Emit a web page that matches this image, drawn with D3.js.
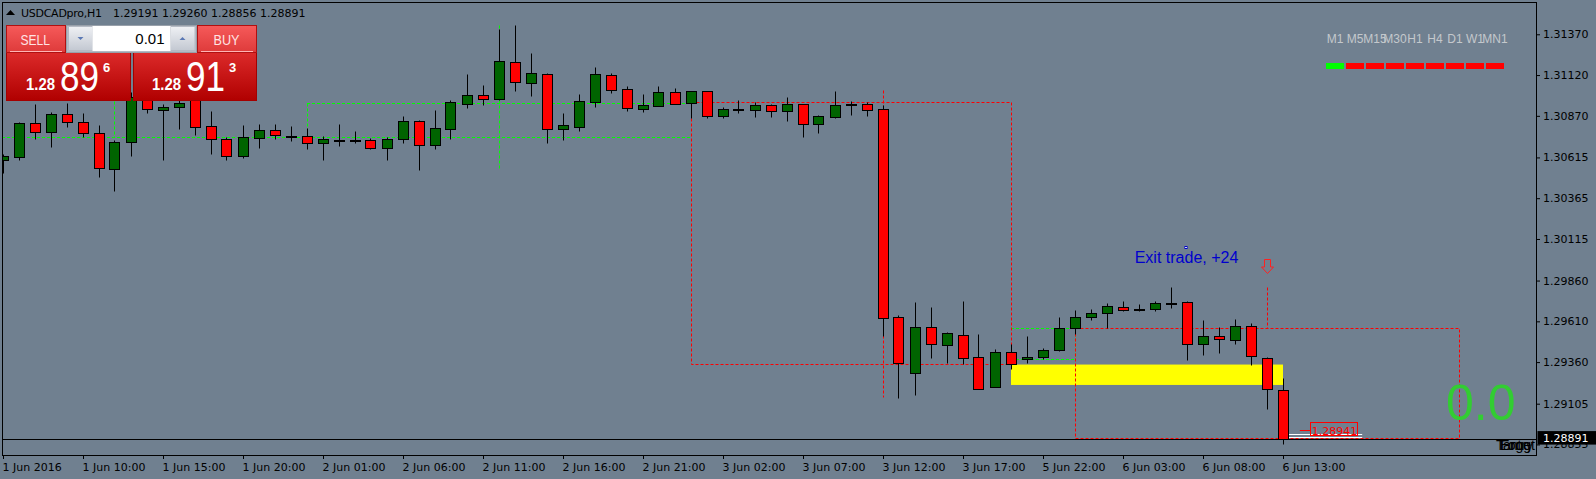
<!DOCTYPE html>
<html><head><meta charset="utf-8">
<script src="https://cdn.jsdelivr.net/npm/d3@7/dist/d3.min.js"></script>
<style>
html,body{margin:0;padding:0;background:#708090;overflow:hidden;}
svg{display:block;}
</style></head>
<body>
<svg id="c" width="1596" height="479"></svg>
<script>
// ---------------- DATA ----------------
const symbolTitle = "USDCADpro,H1";
const titlePrices = "1.29191 1.29260 1.28856 1.28891";

const opens = [1.30599,1.30616,1.30824,1.30769,1.30879,1.30830,1.30763,1.30542,1.30708,1.30979,
1.30904,1.30922,1.30979,1.30806,1.30726,1.30622,1.30732,1.30781,1.30749,1.30745,
1.30702,1.30722,1.30721,1.30720,1.30671,1.30726,1.30837,1.30689,1.30791,1.30944,
1.30996,1.30975,1.31198,1.31073,1.31125,1.30791,1.30803,1.30957,1.31119,1.31033,
1.30914,1.30932,1.31014,1.30951,1.31020,1.30871,1.30910,1.30908,1.30935,1.30902,
1.30941,1.30822,1.30865,1.30940,1.30941,1.30910,1.29636,1.29295,1.29575,1.29467,
1.29526,1.29391,1.29209,1.29420,1.29377,1.29389,1.29432,1.29567,1.29635,1.29659,
1.29696,1.29683,1.29684,1.29723,1.29727,1.29469,1.29518,1.29494,1.29579,1.29383,
1.29191];
const highs = [1.30636,1.30830,1.30943,1.30895,1.30949,1.30887,1.30814,1.30722,1.31014,1.30998,
1.30943,1.30967,1.31010,1.30900,1.30742,1.30814,1.30820,1.30820,1.30808,1.30794,
1.30745,1.30820,1.30777,1.30736,1.30738,1.30869,1.30845,1.30904,1.30967,1.31125,
1.31059,1.31403,1.31427,1.31255,1.31131,1.30887,1.31004,1.31170,1.31131,1.31053,
1.31004,1.31053,1.31041,1.31020,1.31020,1.30924,1.30967,1.30953,1.30941,1.30986,
1.30944,1.30877,1.31022,1.30961,1.30953,1.30936,1.29649,1.29728,1.29698,1.29545,
1.29735,1.29532,1.29440,1.29469,1.29518,1.29445,1.29635,1.29677,1.29684,1.29721,
1.29733,1.29714,1.29733,1.29819,1.29733,1.29616,1.29573,1.29622,1.29598,1.29389,
1.29260];
const lows = [1.30520,1.30599,1.30730,1.30681,1.30803,1.30742,1.30493,1.30411,1.30621,1.30889,
1.30599,1.30791,1.30752,1.30636,1.30599,1.30613,1.30675,1.30726,1.30718,1.30669,
1.30601,1.30687,1.30702,1.30668,1.30601,1.30705,1.30540,1.30669,1.30728,1.30920,
1.30938,1.30967,1.31022,1.30992,1.30705,1.30724,1.30779,1.30926,1.31012,1.30902,
1.30895,1.30932,1.30944,1.30859,1.30859,1.30859,1.30889,1.30865,1.30865,1.30840,
1.30742,1.30767,1.30859,1.30877,1.30871,1.29520,1.29142,1.29160,1.29387,1.29356,
1.29350,1.29194,1.29206,1.29316,1.29356,1.29377,1.29426,1.29530,1.29616,1.29567,
1.29671,1.29671,1.29671,1.29694,1.29371,1.29402,1.29414,1.29469,1.29340,1.29071,
1.28856];
const closes = [1.30624,1.30824,1.30769,1.30879,1.30830,1.30763,1.30548,1.30708,1.30986,1.30910,
1.30922,1.30951,1.30803,1.30726,1.30622,1.30738,1.30781,1.30751,1.30747,1.30702,
1.30726,1.30721,1.30722,1.30671,1.30726,1.30837,1.30689,1.30794,1.30953,1.30996,
1.30975,1.31204,1.31079,1.31131,1.30791,1.30812,1.30959,1.31125,1.31030,1.30920,
1.30935,1.31014,1.30944,1.31020,1.30871,1.30910,1.30911,1.30935,1.30902,1.30941,
1.30822,1.30867,1.30935,1.30938,1.30908,1.29632,1.29356,1.29575,1.29473,1.29538,
1.29387,1.29197,1.29422,1.29346,1.29389,1.29432,1.29567,1.29635,1.29659,1.29702,
1.29678,1.29682,1.29721,1.29722,1.29469,1.29518,1.29500,1.29579,1.29395,1.29193,
1.28891];

const timeTickIndex = [0,5,10,15,20,25,30,35,40,45,50,55,60,65,70,75,80];
const timeTickLabels = ["1 Jun 2016","1 Jun 10:00","1 Jun 15:00","1 Jun 20:00","2 Jun 01:00",
"2 Jun 06:00","2 Jun 11:00","2 Jun 16:00","2 Jun 21:00","3 Jun 02:00","3 Jun 07:00",
"3 Jun 12:00","3 Jun 17:00","5 Jun 22:00","6 Jun 03:00","6 Jun 08:00","6 Jun 13:00"];
const priceTicks = [1.31370,1.31120,1.30870,1.30615,1.30365,1.30115,1.29860,1.29610,1.29360,1.29105,1.28855];
const bidPrice = 1.28891;

// drawn objects (bar index / price)
const greenHLines = [[-1,43,1.30742],[19,43,1.30947],[63,67,1.29567],[63,67,1.29379]];
const greenVLines = [[7,1.30990,1.30742],[19,1.30947,1.30742],[31,1.31427,1.30550],[67,1.29567,1.29379]];
const redRects = [[43,63,1.30953,1.29346],[67,91,1.29567,1.28893]];
const redVLines = [[55,1.31028,1.29146],[79,1.29822,1.29567]];
const yellowRect = [63,80,1.29345,1.29220];
const exitText = {bar:74, price:1.30066, text:"Exit trade, +24"};
const arrowMark = {bar:79, top:1.29992, tip:1.29908};
const tradeLabel = {price:1.28941, text:"1.28941"};
const whiteLevels = [1.28917,1.28898];
const profitText = "0.0";
const tfLabels = ["M1","M5","M15","M30","H1","H4","D1","W1","MN1"];
const tfState = [1,0,0,0,0,0,0,0,0];
const cornerTexts = ["Target","Entry","Long"];

// ---------------- SCALES ----------------
const W=1596,H=479, L=2, T=2, R=1536, B=455;
const x = d3.scaleLinear().domain([0,80]).range([3,1283]);
const y = d3.scaleLinear().domain([1.287904,1.315619]).range([455,3]);
const X = i => Math.floor(x(i))+0.5;
const Y = p => Math.round(y(p))+0.5;

const svg = d3.select("#c");
svg.append("rect").attr("width",W).attr("height",H).attr("fill","#708090");
const defs = svg.append("defs");
defs.append("clipPath").attr("id","plot").append("rect").attr("x",L+1).attr("y",T+1).attr("width",R-L-1).attr("height",B-T-1);

const plot = svg.append("g").attr("clip-path","url(#plot)");

// yellow rectangle
plot.append("rect").attr("x",x(yellowRect[0])).attr("width",x(yellowRect[1])-x(yellowRect[0]))
  .attr("y",y(yellowRect[2])).attr("height",y(yellowRect[3])-y(yellowRect[2])).attr("fill","#ffff00");

const dash="3,2";
// green dashed
greenHLines.forEach(d=>plot.append("line").attr("x1",x(d[0])).attr("x2",x(d[1])).attr("y1",Y(d[2])).attr("y2",Y(d[2]))
  .attr("stroke","#00ff00").attr("stroke-dasharray",dash));
greenVLines.forEach(d=>plot.append("line").attr("x1",X(d[0])).attr("x2",X(d[0])).attr("y1",Y(d[1])).attr("y2",Y(d[2]))
  .attr("stroke","#00ff00").attr("stroke-dasharray",dash));
// red dashed
redRects.forEach(d=>plot.append("rect").attr("x",X(d[0])).attr("y",Y(d[2])).attr("width",X(d[1])-X(d[0])).attr("height",Y(d[3])-Y(d[2]))
  .attr("fill","none").attr("stroke","#ff0000").attr("stroke-dasharray",dash));
redVLines.forEach(d=>plot.append("line").attr("x1",X(d[0])).attr("x2",X(d[0])).attr("y1",Y(d[1])).attr("y2",Y(d[2]))
  .attr("stroke","#ff0000").attr("stroke-dasharray",dash));

// bid line
plot.append("line").attr("x1",L).attr("x2",R).attr("y1",Y(bidPrice)).attr("y2",Y(bidPrice)).attr("stroke","#000");

// candles
const idx = d3.range(opens.length);
const cg = plot.append("g");
idx.forEach(i=>{
  const cx = X(i);
  cg.append("line").attr("x1",cx).attr("x2",cx).attr("y1",Y(highs[i])).attr("y2",Y(lows[i])).attr("stroke","#000");
  const top = Y(Math.max(opens[i],closes[i])), bot = Y(Math.min(opens[i],closes[i]));
  cg.append("rect").attr("x",cx-5).attr("width",10).attr("y",top).attr("height",Math.max(bot-top,1))
    .attr("fill", closes[i]>=opens[i] ? "#006400" : "#ff0000").attr("stroke","#000");
});

// trade level marks
whiteLevels.forEach(p=>plot.append("line").attr("x1",x(80)+6).attr("x2",x(84.95)).attr("y1",Y(p)).attr("y2",Y(p)).attr("stroke","#ffffff"));
plot.append("line").attr("x1",x(81.05)).attr("x2",x(81.7)).attr("y1",Y(tradeLabel.price)).attr("y2",Y(tradeLabel.price)).attr("stroke","#ff0000");
plot.append("rect").attr("x",Math.round(x(81.7))+0.5).attr("y",Y(tradeLabel.price)-8).attr("width",47).attr("height",13)
  .attr("fill","none").attr("stroke","#ff0000");
plot.append("text").attr("x",x(81.7)+1.5).attr("y",Y(tradeLabel.price)+4).attr("font-family","DejaVu Sans").attr("font-size",11)
  .attr("fill","#ff0000").text(tradeLabel.text);

// arrow
{
  const cx = X(arrowMark.bar), t=Math.round(y(arrowMark.top))+0.5, tip=Math.round(y(arrowMark.tip))+0.5, mid=Math.round(t+(tip-t)*0.55);
  plot.append("path").attr("d",`M${cx-3},${t} L${cx+3},${t} L${cx+3},${mid} L${cx+6},${mid} L${cx},${tip} L${cx-6},${mid} L${cx-3},${mid} Z`)
    .attr("fill","none").attr("stroke","#ff2020").attr("stroke-width",1);
}
// exit text
plot.append("rect").attr("x",X(exitText.bar)-2.5).attr("y",Y(exitText.price)-1).attr("width",2).attr("height",2)
  .attr("fill","#d0d8ff").attr("stroke","#0000cd");
plot.append("text").attr("x",x(exitText.bar)-0.5).attr("y",y(exitText.price)+16).attr("text-anchor","middle")
  .attr("font-family","Liberation Sans, Arial").attr("font-size",16).attr("fill","#0000cd").text(exitText.text);

// profit text
svg.append("text").attr("x",1446).attr("y",419.5).attr("font-family","Liberation Sans, Arial").attr("font-size",50)
  .attr("fill","#32cd32").text(profitText);

// corner overlapping labels
cornerTexts.forEach((t,k)=>svg.append("text").attr("x",1535-k*2).attr("y",450).attr("text-anchor","end")
  .attr("font-family","Liberation Sans, Arial").attr("font-size",14).attr("fill","#000").text(t));

// frame
svg.append("rect").attr("x",L+0.5).attr("y",T+0.5).attr("width",R-L).attr("height",B-T).attr("fill","none").attr("stroke","#000");

// axes
const xa = svg.append("g").attr("transform",`translate(0,${B})`)
  .call(d3.axisBottom(x).tickValues(timeTickIndex).tickFormat((d,i)=>timeTickLabels[i]).tickSize(4).tickPadding(4));
xa.select(".domain").remove();
xa.selectAll("line").attr("stroke","#000");
xa.selectAll("text").attr("text-anchor","start").attr("x",-1).attr("font-family","DejaVu Sans").attr("font-size",11).attr("fill","#000");

const ya = svg.append("g").attr("transform",`translate(${R},0)`)
  .call(d3.axisRight(y).tickValues(priceTicks).tickFormat(d3.format(".5f")).tickSize(4).tickPadding(3));
ya.select(".domain").remove();
ya.selectAll("line").attr("stroke","#000");
ya.selectAll("text").attr("font-family","DejaVu Sans").attr("font-size",11).attr("fill","#000");

// bid price label
svg.append("rect").attr("x",1537.5).attr("y",y(bidPrice)-7.5).attr("width",59).attr("height",13.5).attr("fill","#000");
svg.append("text").attr("x",1543).attr("y",y(bidPrice)+3.5).attr("font-family","DejaVu Sans").attr("font-size",11)
  .attr("fill","#fff").text(d3.format(".5f")(bidPrice));

// title
svg.append("path").attr("d","M6,15 L15,15 L10.5,10 Z").attr("fill","#000");
svg.append("text").attr("x",21).attr("y",16.5).attr("font-family","DejaVu Sans").attr("font-size",11).attr("textLength",81).attr("fill","#000").text(symbolTitle);
svg.append("text").attr("x",113).attr("y",16.5).attr("font-family","DejaVu Sans").attr("font-size",11).attr("fill","#000").text(titlePrices);

// timeframe widget
tfLabels.forEach((t,k)=>{
  const cx = 1335+20*k;
  svg.append("text").attr("x",cx).attr("y",42.5).attr("text-anchor","middle").attr("font-family","Liberation Sans, Arial")
    .attr("font-size",12).attr("fill","#c4c8cc").text(t);
  svg.append("rect").attr("x",cx-9).attr("y",63).attr("width",18).attr("height",6).attr("fill",tfState[k]?"#00ff00":"#ff0000");
});

// ---------- one-click trading panel ----------
const g1 = defs.append("linearGradient").attr("id","btn").attr("x1",0).attr("y1",0).attr("x2",0).attr("y2",1);
g1.append("stop").attr("offset","0").attr("stop-color","#f65a5a");
g1.append("stop").attr("offset","1").attr("stop-color","#de3a3a");
const g2 = defs.append("linearGradient").attr("id","blk").attr("x1",0).attr("y1",0).attr("x2",0).attr("y2",1);
g2.append("stop").attr("offset","0").attr("stop-color","#dc2a2a");
g2.append("stop").attr("offset","1").attr("stop-color","#b00000");
const g3 = defs.append("linearGradient").attr("id","gb").attr("x1",0).attr("y1",0).attr("x2",0).attr("y2",1);
g3.append("stop").attr("offset","0").attr("stop-color","#eef0f4");
g3.append("stop").attr("offset","1").attr("stop-color","#c4c9d2");

const P = svg.append("g");
P.append("rect").attr("x",6.5).attr("y",52.5).attr("width",124).attr("height",48).attr("fill","url(#blk)").attr("stroke","#a40000");
P.append("rect").attr("x",133.5).attr("y",52.5).attr("width",123).attr("height",48).attr("fill","url(#blk)").attr("stroke","#a40000");
P.append("rect").attr("x",6.5).attr("y",25.5).attr("width",59).attr("height",27).attr("fill","url(#btn)").attr("stroke","#b01010");
P.append("rect").attr("x",197.5).attr("y",25.5).attr("width",59).attr("height",27).attr("fill","url(#btn)").attr("stroke","#b01010");
P.append("line").attr("x1",10).attr("x2",62).attr("y1",51.5).attr("y2",51.5).attr("stroke","#ffb4b4");
P.append("line").attr("x1",201).attr("x2",253).attr("y1",51.5).attr("y2",51.5).attr("stroke","#ffb4b4");
const btnFont = "Liberation Sans, Arial";
P.append("text").attr("x",20.5).attr("y",44.5).attr("font-family",btnFont).attr("font-size",15).attr("textLength",29.5).attr("lengthAdjust","spacingAndGlyphs").attr("fill","#ffe4e4").text("SELL");
P.append("text").attr("x",213.5).attr("y",44.5).attr("font-family",btnFont).attr("font-size",15).attr("textLength",26).attr("lengthAdjust","spacingAndGlyphs").attr("fill","#ffe4e4").text("BUY");
P.append("rect").attr("x",66.5).attr("y",25.5).attr("width",130).attr("height",27).attr("fill","#b4bac4").attr("stroke","#98a0aa");
P.append("rect").attr("x",69).attr("y",27).attr("width",23.5).attr("height",23).attr("fill","url(#gb)");
P.append("rect").attr("x",92.5).attr("y",26).attr("width",78).attr("height",25).attr("fill","#ffffff");
P.append("rect").attr("x",171).attr("y",27).attr("width",23.5).attr("height",23).attr("fill","url(#gb)");
P.append("path").attr("d","M77.5,37 L83.5,37 L80.5,40 Z").attr("fill","#5a78b4");
P.append("path").attr("d","M179.5,40 L185.5,40 L182.5,37 Z").attr("fill","#5a78b4");
P.append("text").attr("x",164.5).attr("y",43.5).attr("text-anchor","end").attr("font-family",btnFont).attr("font-size",15).attr("fill","#000").text("0.01");
function bigPrice(x0, small, big, pip){
  P.append("text").attr("x",x0).attr("y",90).attr("font-family",btnFont).attr("font-weight","bold").attr("font-size",17)
    .attr("textLength",29).attr("lengthAdjust","spacingAndGlyphs").attr("fill","#fff").text(small);
  P.append("text").attr("x",x0+34).attr("y",90.7).attr("font-family",btnFont).attr("font-size",42)
    .attr("textLength",39).attr("lengthAdjust","spacingAndGlyphs").attr("fill","#fff").text(big);
  P.append("text").attr("x",x0+77).attr("y",71.5).attr("font-family",btnFont).attr("font-weight","bold").attr("font-size",13)
    .attr("fill","#fff").text(pip);
}
bigPrice(26,"1.28","89","6");
bigPrice(152,"1.28","91","3");
</script>
</body></html>
